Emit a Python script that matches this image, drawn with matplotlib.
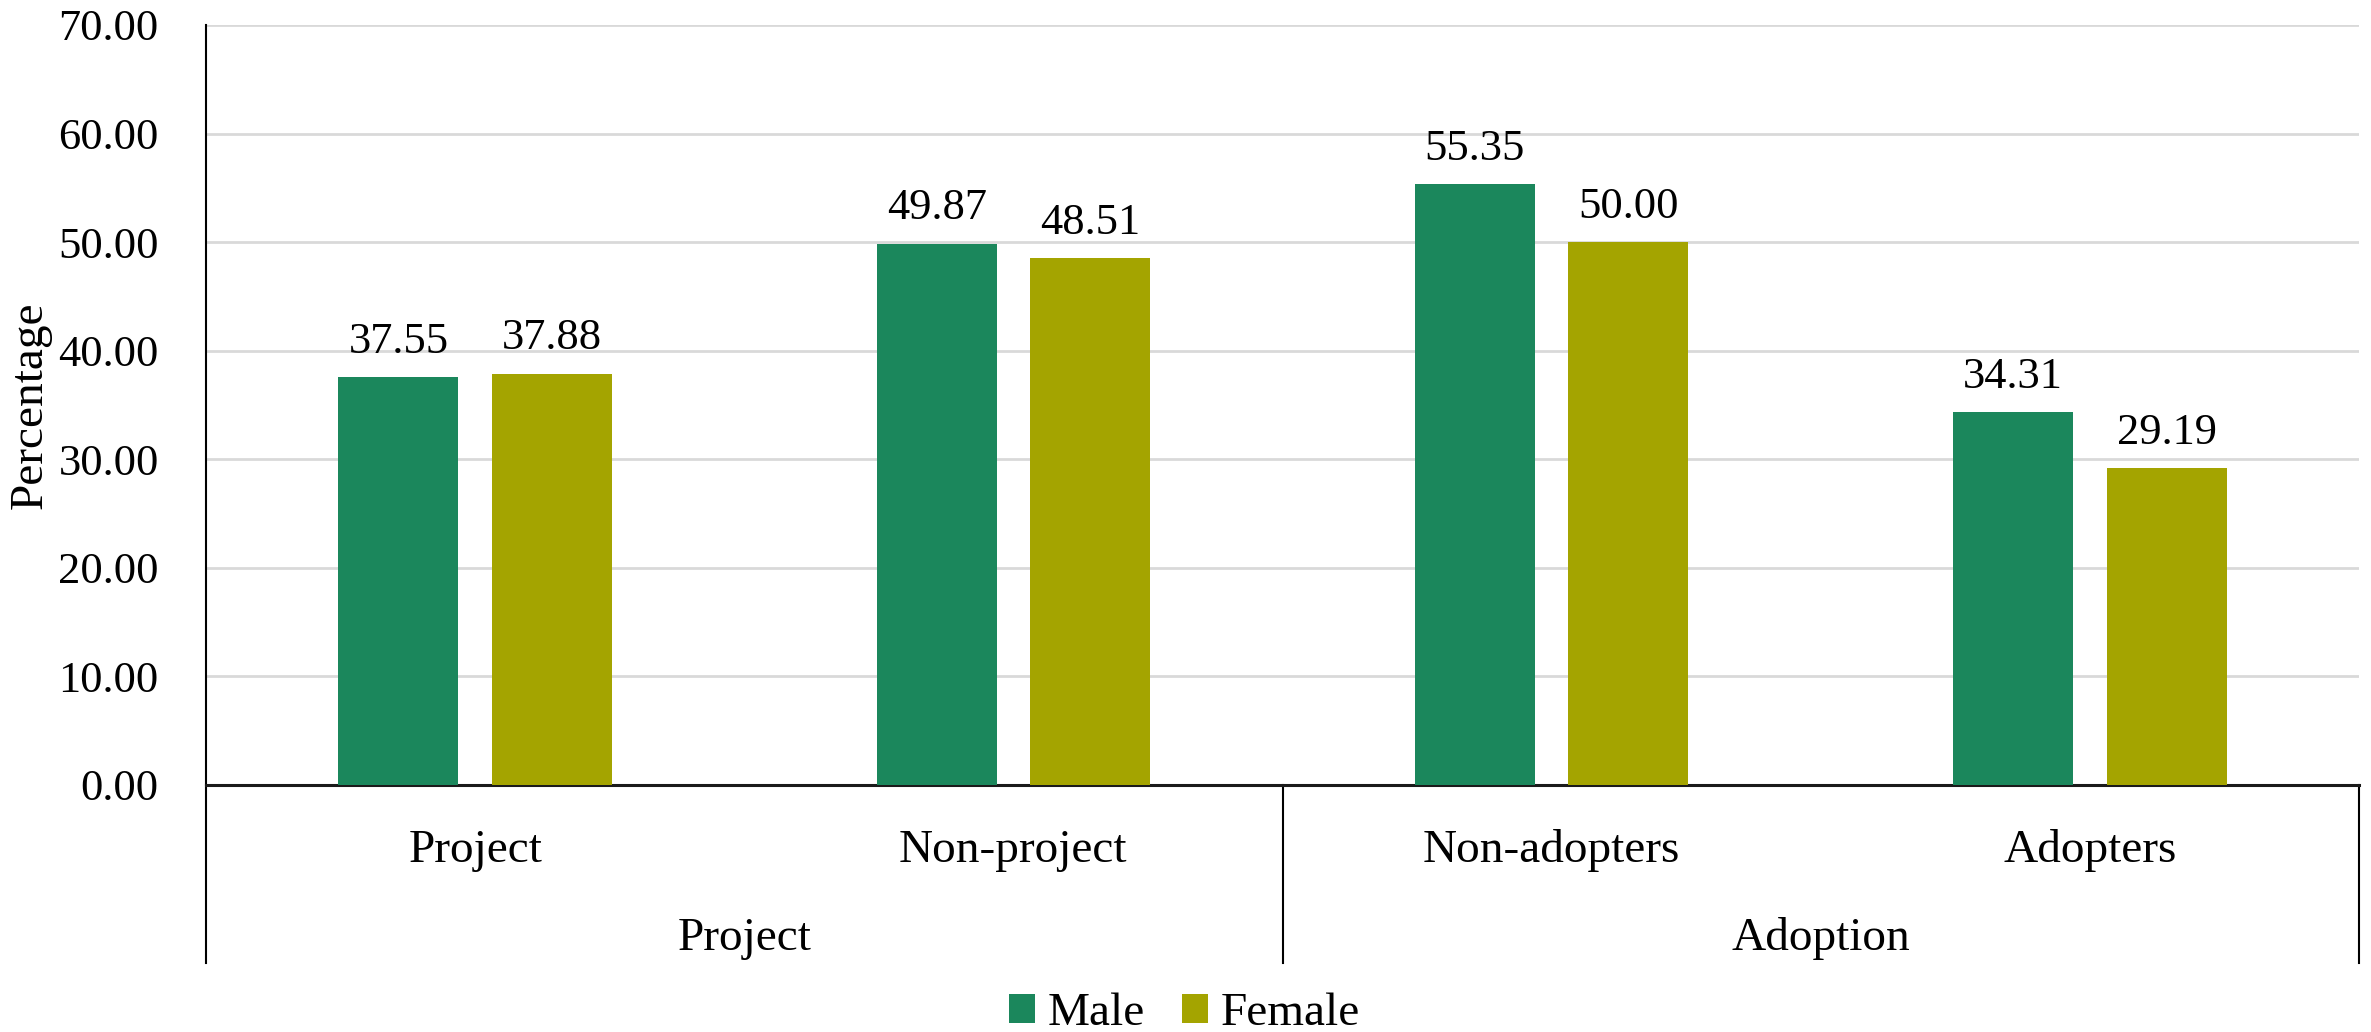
import numpy as np
import matplotlib.pyplot as plt
from matplotlib.transforms import blended_transform_factory

# Data
categories = ["Project", "Non-project", "Non-adopters", "Adopters"]
groups = ["Project", "Adoption"]
male = [37.55, 49.87, 55.35, 34.31]
female = [37.88, 48.51, 50.00, 29.19]
yticks = [0, 10, 20, 30, 40, 50, 60, 70]

# Styling
plt.rcParams['font.family'] = ['Liberation Serif', 'DejaVu Serif']
fs = 32      # numbers
fs_txt = 34  # words
c_male = '#1B875C'
c_female = '#A4A400'

W, H = 2371, 1032
fig = plt.figure(figsize=(W / 100, H / 100), dpi=100)
ax = fig.add_axes([206 / W, 1 - 785 / H, (2359 - 206) / W, (785 - 25) / H])

x = np.arange(len(categories))
bw = 0.223
off = 0.1425
b1 = ax.bar(x - off, male, bw, color=c_male, label="Male", zorder=3)
b2 = ax.bar(x + off, female, bw, color=c_female, label="Female", zorder=3)
ax.bar_label(b1, fmt='%.2f', padding=11, fontsize=fs)
ax.bar_label(b2, fmt='%.2f', padding=11, fontsize=fs)

ax.set_xlim(-0.5, len(categories) - 0.5)
ax.set_ylim(0, 70)
ax.set_yticks(yticks)
ax.set_yticklabels([f"{v:.2f}" for v in yticks], fontsize=fs)
ax.tick_params(axis='y', length=0, pad=34)
ax.set_xticks([])
ax.yaxis.grid(True, color='#D9D9D9', linewidth=2, zorder=0)
ax.set_axisbelow(True)

for s in ['top', 'right']:
    ax.spines[s].set_visible(False)
ax.spines['left'].set_color('black')
ax.spines['left'].set_linewidth(1.5)
ax.spines['bottom'].set_color('#1a1a1a')
ax.spines['bottom'].set_linewidth(2.2)

# Category axis with two levels
tr = blended_transform_factory(ax.transData, ax.transAxes)
depth = (963 - 785) / (785 - 25)
for xv in [-0.5, 1.5, 3.5]:
    ax.plot([xv, xv], [0, -depth], color='black', lw=1.5, transform=tr, clip_on=False)

for xi, name in zip(x, categories):
    ax.text(xi, (785 - 862) / 760, name, transform=tr, ha='center', va='baseline', fontsize=fs_txt)
for gi, name in enumerate(groups):
    ax.text(0.5 + 2 * gi, (785 - 950) / 760, name, transform=tr, ha='center', va='baseline', fontsize=fs_txt)

fig.text(30 / W, 1 - 405 / H, "Percentage", rotation=90, ha='center', va='center', fontsize=fs_txt)

fig.legend(handles=[b1, b2], labels=["Male", "Female"], loc='center',
           bbox_to_anchor=(0.4996, 1 - 1014 / H), ncol=2, frameon=False,
           fontsize=fs_txt, handlelength=0.55, handleheight=0.55,
           handletextpad=0.26, columnspacing=0.8, borderpad=0)

fig.savefig("out.png", dpi=100, facecolor='white')
